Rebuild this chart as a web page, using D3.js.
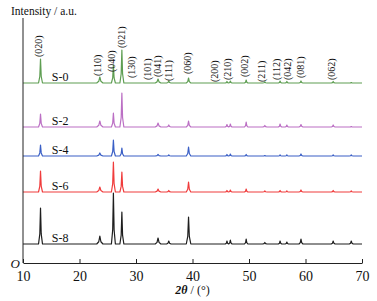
<!DOCTYPE html>
<html>
<head>
<meta charset="utf-8">
<script src="https://cdn.jsdelivr.net/npm/d3@7/dist/d3.min.js"></script>
<style>
  html, body { margin: 0; padding: 0; background: #fff; }
  svg text { font-family: "Liberation Serif", "DejaVu Serif", serif; }
</style>
</head>
<body>
<svg id="chart" width="377" height="301"></svg>
<script>
// ---- data ----
const seriesNames = ["S-0", "S-2", "S-4", "S-6", "S-8"];
const seriesOffsets = [180, 136, 107, 71, 19];          // vertical stacking offset (a.u.)
const peakPositions = [13.1, 23.6, 26.0, 27.5, 33.9, 35.8, 39.3, 46.1, 46.7, 49.5, 52.8, 55.5, 56.7, 59.2, 64.9, 68.1];
const peakWidths    = [0.35, 0.55, 0.35, 0.35, 0.5, 0.4, 0.4, 0.3, 0.3, 0.3, 0.4, 0.3, 0.3, 0.35, 0.35, 0.35];
const s0Heights = [24, 6, 18, 33, 4, 2, 5, 1.5, 2, 3, 1, 2, 1.5, 2, 1.5, 0.5];
const s2Heights = [13, 6, 14, 34, 4, 2, 6, 2.5, 3, 5, 1.5, 3, 2, 2.5, 2, 0.5];
const s4Heights = [11, 3, 16, 8, 1.5, 1, 9, 1.5, 2, 1.5, 0.5, 1, 1, 2, 1, 1];
const s6Heights = [21, 5, 30, 20, 3, 1.5, 10, 1.5, 2, 3, 1, 1.5, 1, 2, 1.5, 1];
const s8Heights = [36, 8, 51, 32, 6, 3, 27, 3, 4, 5, 1.5, 3, 2, 5, 3, 3];
const seriesHeights = [s0Heights, s2Heights, s4Heights, s6Heights, s8Heights];
const seriesColors = ["#5e9e52", "#bb6fc4", "#3a5fc6", "#f03c3c", "#1e1e1e"];
const hklLabels = ["(020)", "(110)", "(040)", "(021)", "(130)", "(101)", "(041)", "(111)", "(060)",
                   "(200)", "(210)", "(002)", "(211)", "(112)", "(042)", "(081)", "(062)"];
const hklPositions = [12.83, 23.27, 25.66, 27.52, 29.12, 32.04, 33.72, 35.84, 39.03,
                      43.98, 46.28, 49.29, 52.30, 54.78, 56.73, 59.03, 64.69];
const hklLevels = [206, 187, 191, 215, 185, 183, 186, 182, 189, 181, 183, 186, 181, 183, 183, 185, 183];
const xTicks = [10, 20, 30, 40, 50, 60, 70];
const xDomain = [10, 70];
const yDomain = [0, 245];

// ---- layout ----
const svg = d3.select("#chart");
const margin = { left: 23, right: 15, top: 18, bottom: 38 };
const W = 377, H = 301;
const x = d3.scaleLinear().domain(xDomain).range([margin.left, W - margin.right]);
const y = d3.scaleLinear().domain(yDomain).range([H - margin.bottom, margin.top]);

// build each pattern as a polyline of baseline + peak points
function buildPattern(heights) {
  const pts = [[xDomain[0], 0]];
  peakPositions.forEach((p, i) => {
    const w = peakWidths[i], h = heights[i];
    pts.push([p - w, 0], [p - w * 0.35, h * 0.28], [p, h], [p + w * 0.35, h * 0.28], [p + w, 0]);
  });
  pts.push([xDomain[1], 0]);
  return pts;
}

const line = d3.line().x(d => x(d[0])).y(d => y(d[1]));

seriesNames.forEach((name, si) => {
  const off = seriesOffsets[si];
  const pts = buildPattern(seriesHeights[si]).map(d => [d[0], d[1] + off]);
  svg.append("path")
    .attr("d", line(pts))
    .attr("fill", "none")
    .attr("stroke", seriesColors[si])
    .attr("stroke-width", 1.2)
    .attr("stroke-linejoin", "round");
  svg.append("text")
    .attr("x", x(15.1))
    .attr("y", y(off) - 2.5)
    .attr("font-size", 12)
    .attr("fill", "#111")
    .text(name);
});

// hkl labels (rotated)
hklLabels.forEach((lab, i) => {
  const tx = x(hklPositions[i]) , ty = y(hklLevels[i]);
  svg.append("text")
    .attr("transform", `translate(${tx},${ty}) rotate(-90)`)
    .attr("dy", "0.35em")
    .attr("font-size", 10)
    .attr("fill", "#111")
    .text(lab);
});

// x axis
const xAxis = d3.axisBottom(x).tickValues(xTicks).tickSizeInner(-4).tickSizeOuter(0).tickPadding(8);
const gx = svg.append("g").attr("transform", `translate(0,${y(0)})`).call(xAxis);
gx.selectAll("path, line").attr("stroke", "#222").attr("stroke-width", 1);
gx.selectAll("text").attr("font-family", "Liberation Serif, serif").attr("font-size", 14).attr("fill", "#111");

// y axis line
svg.append("line")
  .attr("x1", x(xDomain[0])).attr("x2", x(xDomain[0]))
  .attr("y1", y(yDomain[1])).attr("y2", y(0))
  .attr("stroke", "#222").attr("stroke-width", 1);

// origin label
svg.append("text")
  .attr("x", x(xDomain[0]) - 3).attr("y", y(0) + 5)
  .attr("text-anchor", "end")
  .attr("font-size", 13).attr("font-style", "italic").attr("fill", "#111")
  .text("O");

// axis titles
svg.append("text")
  .attr("x", 11).attr("y", 15)
  .attr("font-size", 11.5).attr("fill", "#111")
  .text("Intensity / a.u.");

const xt = svg.append("text")
  .attr("x", (margin.left + W - margin.right) / 2).attr("y", 294)
  .attr("text-anchor", "middle")
  .attr("font-size", 12).attr("fill", "#111");
xt.append("tspan").attr("font-weight", "bold").attr("font-style", "italic").text("2θ");
xt.append("tspan").text(" / (°)");
</script>
</body>
</html>
